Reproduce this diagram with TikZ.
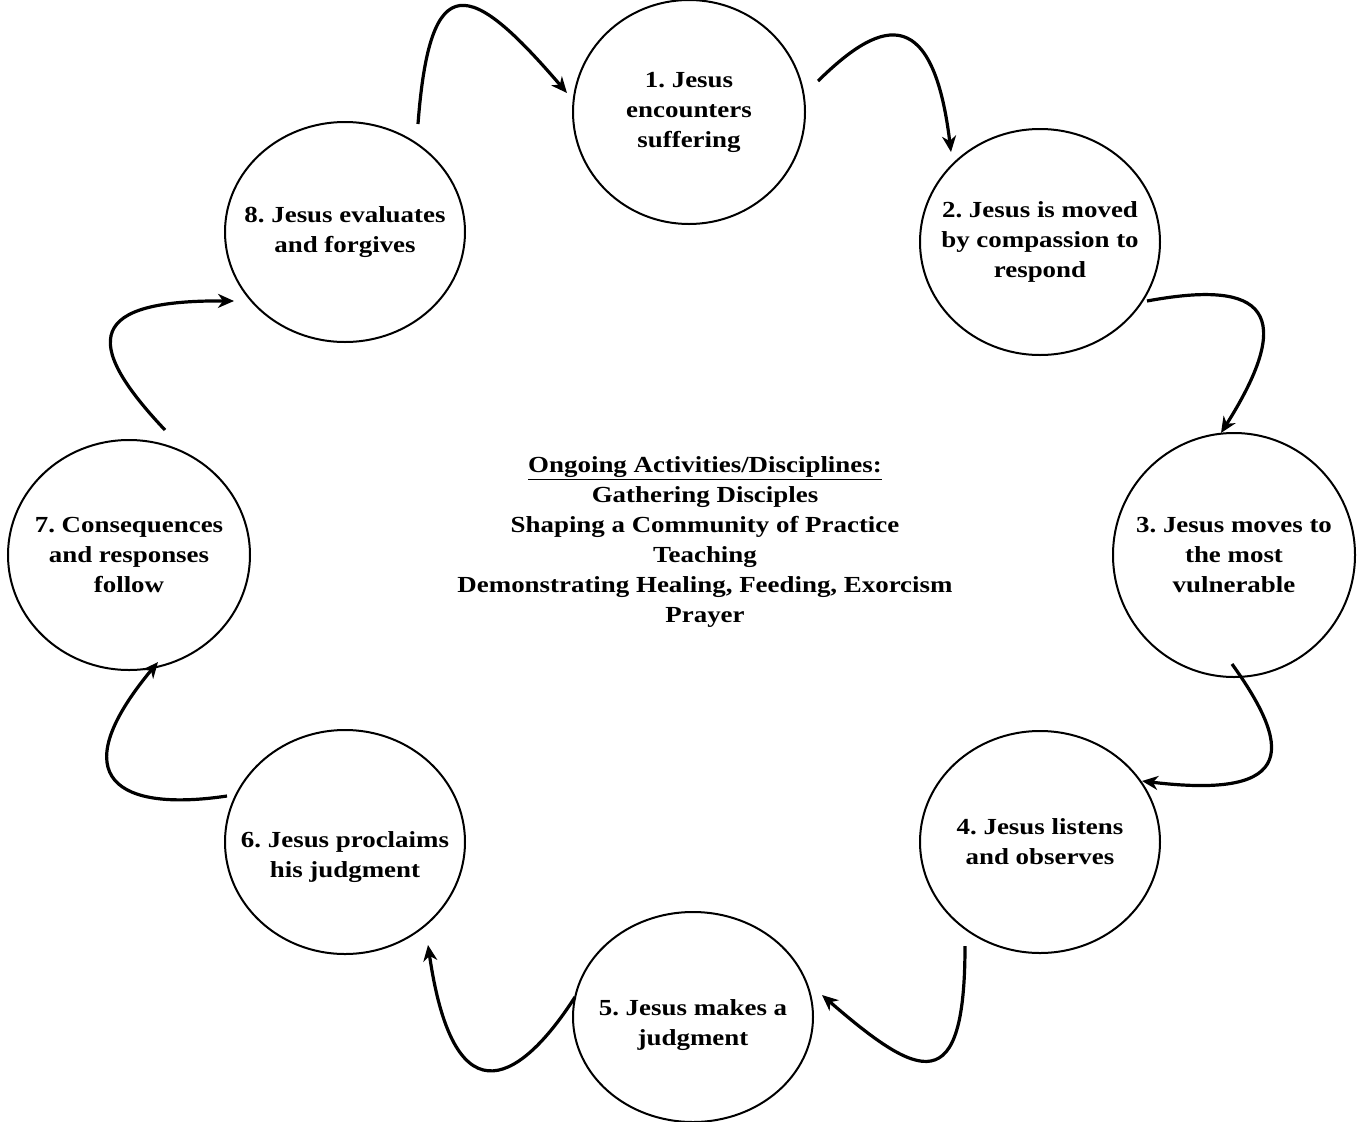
\documentclass[tikz,border=0pt]{standalone}
\usepackage{fontspec}
\setmainfont{Liberation Serif}[FakeStretch=1.17]
\usetikzlibrary{shapes.geometric,arrows.meta}
\begin{document}
\frenchspacing
\begin{tikzpicture}[x=1pt,y=-1pt,
  stage/.style={ellipse,draw,line width=2pt,inner sep=0pt},
  caption/.style={align=center,font=\fontsize{23}{30}\selectfont\bfseries},
  flow/.style={line width=3.2pt,-{Stealth[length=16pt,width=14pt,inset=5pt]}}]
\useasboundingbox (0,0) rectangle (1358,1122);
% the eight stages of the cycle
\node[stage,minimum width=232pt,minimum height=224pt] (e1) at (689,112) {};
\node[stage,minimum width=240pt,minimum height=226pt] (e2) at (1040,242) {};
\node[stage,minimum width=242pt,minimum height=244pt] (e3) at (1234,555) {};
\node[stage,minimum width=240pt,minimum height=222pt] (e4) at (1040,842) {};
\node[stage,minimum width=240pt,minimum height=210pt] (e5) at (693,1017) {};
\node[stage,minimum width=240pt,minimum height=224pt] (e6) at (345,842) {};
\node[stage,minimum width=242pt,minimum height=230pt] (e7) at (129,555) {};
\node[stage,minimum width=240pt,minimum height=220pt] (e8) at (345,232) {};
\node[caption] (t1) at (e1.center) {1. Jesus\\encounters\\suffering};
\node[caption] (t2) at (e2.center) {2. Jesus is moved\\by compassion to\\respond};
\node[caption] (t3) at (e3.center) {3. Jesus moves to\\the most\\vulnerable};
\node[caption] (t4) at (e4.center) {4. Jesus listens\\and observes};
\node[caption] (t5) at ([yshift=-8pt]e5.center) {5. Jesus makes a\\judgment};
\node[caption] (t6) at ([yshift=-15pt]e6.center) {6. Jesus proclaims\\his judgment};
\node[caption] (t7) at (e7.center) {7. Consequences\\and responses\\follow};
\node[caption] (t8) at (e8.center) {8. Jesus evaluates\\and forgives};
% ongoing activities in the middle
\node[caption] (mid) at (705,542) {\underline{Ongoing Activities/Disciplines:}\\Gathering Disciples\\Shaping a Community of Practice\\Teaching\\Demonstrating Healing, Feeding, Exorcism\\Prayer};
% free ends of the curved arrows
\coordinate (s1) at (418,124); \coordinate (f1) at (567,93);
\coordinate (s2) at (818,81);  \coordinate (f2) at (951,152);
\coordinate (s3) at (1147,301); \coordinate (f3) at (1221,433);
\coordinate (s4) at (1232,664); \coordinate (f4) at (1142,781);
\coordinate (s5) at (965,946); \coordinate (f5) at (822,995);
\coordinate (s6) at (575,997); \coordinate (f6) at (428,945);
\coordinate (s7) at (227,796); \coordinate (f7) at (158,662);
\coordinate (s8) at (165,430); \coordinate (f8) at (234,301);
\draw[flow] (s1) .. controls (430,-35) and (470,-20) .. (f1);
\draw[flow] (s2) .. controls (875,25) and (932,-5) .. (f2);
\draw[flow] (s3) .. controls (1250,282) and (1305,300) .. (f3);
\draw[flow] (s4) .. controls (1290,745) and (1300,800) .. (f4);
\draw[flow] (s5) .. controls (965,1100) and (920,1080) .. (f5);
\draw[flow] (s6) .. controls (525,1075) and (455,1130) .. (f6);
\draw[flow] (s7) .. controls (120,812) and (60,780) .. (f7);
\draw[flow] (s8) .. controls (80,340) and (90,300) .. (f8);
\end{tikzpicture}
\end{document}
